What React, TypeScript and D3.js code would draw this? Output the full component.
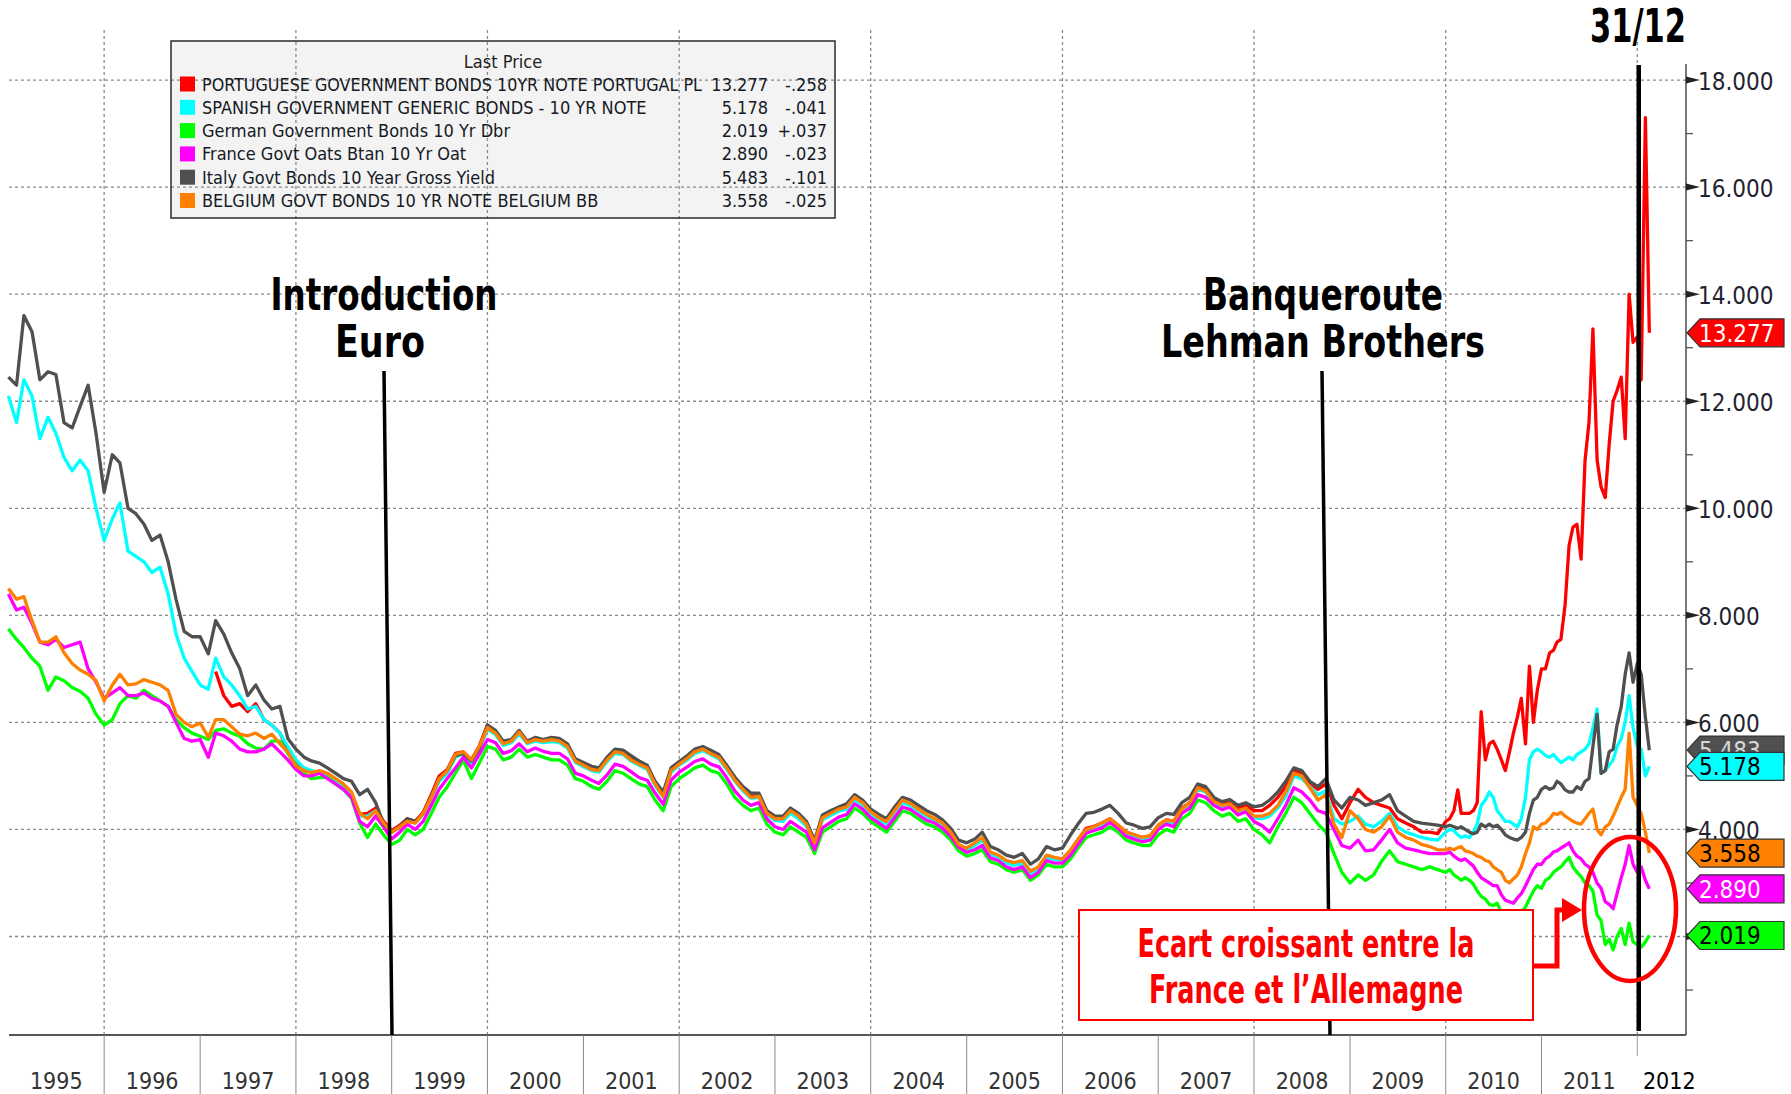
import React from "react";
import * as d3 from "d3";

const W = 1791;
const H = 1094;

// ---------- time grid: monthly 1995-2009, semi-monthly 2010 - Feb 2012 ----------
const monthlyDates = d3.timeMonth.range(new Date(1995, 0, 1), new Date(2010, 0, 1));
const semiDates: Date[] = [];
d3.timeMonth.range(new Date(2010, 0, 1), new Date(2012, 2, 1)).forEach((m) => {
  semiDates.push(m);
  semiDates.push(new Date(m.getFullYear(), m.getMonth(), 16));
});
const dates: Date[] = [...monthlyDates, ...semiDates];

// ---------- series values (yield %) ----------
const germany = [
  7.75, 7.55, 7.4, 7.2, 7.05, 6.6, 6.85, 6.78, 6.65, 6.58, 6.45, 6.15,
  5.95, 6.05, 6.35, 6.5, 6.45, 6.6, 6.5, 6.4, 6.3, 6.05, 5.9, 5.8,
  5.74, 5.68, 5.85, 5.88, 5.8, 5.74, 5.6, 5.52, 5.5, 5.65, 5.65, 5.42,
  5.2, 5.05, 4.95, 4.97, 4.98, 4.85, 4.75, 4.58, 4.12, 3.85, 4.1, 3.9,
  3.72, 3.8, 4.0, 3.9, 4.0, 4.3, 4.6, 4.8, 5.05, 5.3, 4.95, 5.24,
  5.55, 5.5, 5.3, 5.35, 5.5, 5.35, 5.4, 5.35, 5.3, 5.3, 5.2, 4.95,
  4.9, 4.8, 4.75, 4.9, 5.1, 5.05, 4.95, 4.85, 4.8, 4.55, 4.35, 4.8,
  4.95, 5.05, 5.15, 5.2, 5.1, 5.05, 4.85, 4.6, 4.45, 4.35, 4.4, 4.1,
  3.95, 3.9, 4.05, 3.95, 3.85, 3.55, 3.95, 4.05, 4.15, 4.2, 4.4, 4.3,
  4.15, 4.05, 3.95, 4.15, 4.35, 4.3, 4.2, 4.1, 4.05, 3.95, 3.8, 3.6,
  3.5, 3.55, 3.62, 3.4, 3.35, 3.25, 3.2, 3.25, 3.05, 3.15, 3.35, 3.3,
  3.3, 3.45, 3.65, 3.85, 3.9, 3.95, 4.05, 3.95, 3.8, 3.75, 3.7, 3.7,
  3.9, 4.0, 3.95, 4.2, 4.3, 4.55, 4.5, 4.35, 4.25, 4.3, 4.15, 4.2,
  4.0, 3.9, 3.75, 4.05, 4.3, 4.6, 4.5, 4.3, 4.1, 3.95, 3.55, 3.2,
  3.0, 3.15, 3.05, 3.15, 3.4, 3.6, 3.4, 3.35, 3.3, 3.25, 3.3, 3.25,
  3.2, 3.25, 3.15, 3.1, 3.05, 3.1, 3.05, 2.98, 2.85, 2.75, 2.7, 2.6, 2.58, 2.62, 2.45, 2.35, 2.35, 2.25, 2.35, 2.45, 2.55, 2.7, 2.85, 2.95,
  2.9, 3.05, 3.1, 3.2, 3.25, 3.3, 3.4, 3.48, 3.3, 3.2, 3.12, 3.0, 2.95, 2.85, 2.4, 2.3, 1.85, 1.95, 1.75, 2.0, 2.15, 1.85, 2.25, 1.9,
  1.85, 1.8, 1.9, 2.02,
];

const france = [
  8.4, 8.1, 8.15, 7.85, 7.5, 7.45, 7.55, 7.4, 7.45, 7.5, 7.0, 6.75,
  6.45, 6.55, 6.65, 6.5, 6.5, 6.55, 6.45, 6.4, 6.3, 6.0, 5.7, 5.65,
  5.68, 5.35, 5.8, 5.75, 5.65, 5.5, 5.45, 5.45, 5.5, 5.6, 5.45, 5.3,
  5.12, 5.0, 5.0, 5.05, 4.95, 4.85, 4.75, 4.6, 4.15, 4.05, 4.25, 4.05,
  3.82, 3.95, 4.1, 4.0, 4.15, 4.45, 4.75, 4.95, 5.15, 5.35, 5.15, 5.4,
  5.68, 5.62, 5.42, 5.47, 5.6, 5.45, 5.52, 5.46, 5.42, 5.42, 5.32, 5.05,
  5.0, 4.92, 4.86, 5.02, 5.22, 5.18, 5.08, 4.97, 4.92, 4.68, 4.47, 4.92,
  5.07, 5.17, 5.27, 5.32, 5.22, 5.17, 4.97, 4.72, 4.55, 4.45, 4.5, 4.2,
  4.05, 4.0, 4.15, 4.05, 3.95, 3.62, 4.03, 4.13, 4.23, 4.28, 4.48, 4.38,
  4.22, 4.12, 4.02, 4.22, 4.42, 4.37, 4.27, 4.17, 4.12, 4.02, 3.87, 3.67,
  3.57, 3.62, 3.7, 3.47, 3.42, 3.3, 3.25, 3.3, 3.1, 3.2, 3.42, 3.37,
  3.37, 3.52, 3.72, 3.93, 3.98, 4.03, 4.13, 4.02, 3.87, 3.82, 3.77, 3.8,
  4.0, 4.1, 4.05, 4.3, 4.4, 4.65, 4.6, 4.45, 4.37, 4.42, 4.27, 4.33,
  4.15, 4.07, 3.95, 4.2, 4.45, 4.78, 4.7, 4.55, 4.35, 4.3, 4.0, 3.7,
  3.65, 3.8, 3.6, 3.62, 3.8, 4.0, 3.75, 3.65, 3.62, 3.58, 3.55, 3.55,
  3.55, 3.58, 3.5, 3.45, 3.42, 3.45, 3.38, 3.32, 3.2, 3.1, 3.05, 3.0, 2.95, 2.95, 2.78, 2.68, 2.65, 2.62, 2.72, 2.8, 2.95, 3.1, 3.25, 3.35,
  3.35, 3.45, 3.5, 3.58, 3.6, 3.65, 3.7, 3.75, 3.6, 3.5, 3.45, 3.35, 3.3, 3.2, 3.0, 2.9, 2.65, 2.6, 2.52, 2.8, 3.1, 3.35, 3.7, 3.35,
  3.2, 3.3, 3.05, 2.89,
];

const belgium = [
  8.5, 8.3, 8.35, 7.9, 7.5, 7.5, 7.6, 7.3, 7.1, 6.98, 6.9, 6.78,
  6.4, 6.7, 6.9, 6.7, 6.72, 6.8, 6.75, 6.7, 6.6, 6.15, 6.0, 5.92,
  5.99, 5.72, 6.05, 6.05, 5.92, 5.78, 5.75, 5.8, 5.7, 5.78, 5.6, 5.45,
  5.18, 5.1, 5.06, 5.1, 5.05, 4.95, 4.85, 4.7, 4.3, 4.2, 4.35, 4.12,
  3.95, 4.05, 4.15, 4.12, 4.3, 4.6, 4.95, 5.1, 5.4, 5.45, 5.3, 5.55,
  5.9, 5.8, 5.6, 5.65, 5.82, 5.62, 5.68, 5.65, 5.68, 5.65, 5.55, 5.28,
  5.2, 5.12, 5.1, 5.3, 5.45, 5.42, 5.3, 5.22, 5.15, 4.85, 4.62, 5.1,
  5.22, 5.33, 5.45, 5.5, 5.42, 5.35, 5.15, 4.92, 4.75, 4.6, 4.62, 4.3,
  4.2, 4.2, 4.35, 4.25, 4.1, 3.75, 4.22, 4.3, 4.38, 4.42, 4.6, 4.5,
  4.33, 4.22, 4.15, 4.35, 4.55, 4.48, 4.38, 4.28, 4.2, 4.12, 3.95, 3.72,
  3.65, 3.75, 3.85, 3.58, 3.52, 3.42, 3.38, 3.42, 3.22, 3.3, 3.52, 3.48,
  3.45, 3.62, 3.82, 4.0, 4.05, 4.12, 4.2, 4.08, 3.95, 3.9, 3.85, 3.88,
  4.08, 4.18, 4.15, 4.38, 4.5, 4.78, 4.72, 4.52, 4.45, 4.48, 4.35, 4.4,
  4.25, 4.25, 4.3, 4.45, 4.7, 5.05, 5.0, 4.78, 4.55, 4.65, 4.1, 3.85,
  4.35, 4.2, 4.0, 3.95, 4.05, 4.25, 3.95, 3.85, 3.8, 3.72, 3.68, 3.62,
  3.62, 3.65, 3.62, 3.66, 3.68, 3.6, 3.58, 3.55, 3.5, 3.48, 3.42, 3.4, 3.3, 3.25, 3.2, 3.05, 3.0, 3.08, 3.15, 3.3, 3.55, 3.75, 4.05, 4.0,
  4.1, 4.12, 4.2, 4.3, 4.28, 4.32, 4.25, 4.2, 4.15, 4.12, 4.1, 4.2, 4.3, 4.38, 4.0, 3.9, 4.05, 4.1, 4.25, 4.42, 4.6, 4.75, 5.8, 4.6,
  4.45, 4.3, 3.95, 3.56,
];

const italy = [
  12.45, 12.3, 13.6, 13.3, 12.4, 12.55, 12.5, 11.6, 11.5, 11.9, 12.3, 11.4,
  10.3, 11.0, 10.85, 10.0, 9.9, 9.7, 9.4, 9.5, 9.0, 8.3, 7.7, 7.6,
  7.6, 7.28, 7.9, 7.65, 7.3, 7.0, 6.5, 6.7, 6.42, 6.25, 6.3, 5.7,
  5.5, 5.35, 5.28, 5.24, 5.15, 5.05, 4.95, 4.9, 4.65, 4.75, 4.5, 4.1,
  3.95, 4.05, 4.2, 4.15, 4.3, 4.62, 4.95, 5.1, 5.38, 5.42, 5.28, 5.52,
  5.95, 5.85, 5.65, 5.68, 5.85, 5.65, 5.72, 5.68, 5.72, 5.7, 5.6, 5.32,
  5.25, 5.18, 5.15, 5.35, 5.5, 5.48, 5.38, 5.28, 5.2, 4.9, 4.7, 5.15,
  5.27, 5.38, 5.5, 5.55, 5.48, 5.4, 5.2, 4.98, 4.8, 4.68, 4.68, 4.35,
  4.25, 4.25, 4.4, 4.3, 4.15, 3.8, 4.27, 4.35, 4.42, 4.48, 4.65, 4.55,
  4.38, 4.28, 4.2, 4.42, 4.6, 4.55, 4.45, 4.35, 4.28, 4.18, 4.02, 3.8,
  3.75, 3.82, 3.95, 3.68, 3.62, 3.52, 3.48, 3.55, 3.35, 3.45, 3.68, 3.62,
  3.65, 3.9, 4.1, 4.3, 4.32, 4.38, 4.45, 4.3, 4.12, 4.08, 4.02, 4.05,
  4.22, 4.3, 4.28, 4.5, 4.6, 4.85, 4.8, 4.6, 4.52, 4.56, 4.45, 4.5,
  4.42, 4.45, 4.55, 4.7, 4.9, 5.15, 5.1, 4.9, 4.8, 4.95, 4.55, 4.4,
  4.6, 4.55, 4.45, 4.5, 4.55, 4.65, 4.35, 4.25, 4.15, 4.12, 4.1, 4.08,
  4.05, 4.08, 4.05, 4.02, 4.05, 4.0, 3.95, 3.92, 3.95, 4.1, 4.05, 4.1, 4.05, 4.08, 4.0, 3.9, 3.85, 3.82, 3.8, 3.85, 3.95, 4.3, 4.55, 4.6,
  4.75, 4.8, 4.75, 4.78, 4.9, 4.85, 4.74, 4.7, 4.7, 4.8, 4.75, 4.9, 4.95, 5.55, 6.15, 5.05, 5.1, 5.45, 5.5, 5.95, 6.3, 6.9, 7.3, 6.75,
  7.1, 6.9, 6.1, 5.48,
];

const spain = [
  12.1, 11.6, 12.4, 12.1, 11.3, 11.7, 11.4, 10.95, 10.7, 10.9, 10.7, 10.0,
  9.4, 9.8, 10.1, 9.2, 9.1, 9.0, 8.8, 8.9, 8.4, 7.65, 7.2, 6.95,
  6.7, 6.62, 7.2, 6.85, 6.7, 6.5, 6.25, 6.3, 6.05, 5.95, 5.8, 5.55,
  5.3, 5.15, 5.1, 5.05, 5.0, 4.9, 4.8, 4.62, 4.25, 4.25, 4.35, 4.1,
  3.95, 4.05, 4.18, 4.12, 4.28, 4.58, 4.9, 5.05, 5.35, 5.42, 5.25, 5.5,
  5.87, 5.77, 5.57, 5.62, 5.78, 5.6, 5.65, 5.62, 5.64, 5.62, 5.52, 5.25,
  5.17, 5.1, 5.07, 5.27, 5.42, 5.4, 5.28, 5.2, 5.12, 4.82, 4.6, 5.07,
  5.2, 5.3, 5.42, 5.47, 5.4, 5.32, 5.12, 4.9, 4.72, 4.58, 4.6, 4.28,
  4.17, 4.15, 4.3, 4.2, 4.06, 3.7, 4.18, 4.26, 4.34, 4.38, 4.56, 4.45,
  4.3, 4.18, 4.1, 4.3, 4.5, 4.44, 4.34, 4.24, 4.16, 4.08, 3.92, 3.68,
  3.6, 3.7, 3.8, 3.54, 3.47, 3.37, 3.33, 3.37, 3.17, 3.26, 3.48, 3.44,
  3.42, 3.58, 3.78, 3.97, 4.02, 4.09, 4.17, 4.05, 3.92, 3.87, 3.82, 3.85,
  4.05, 4.15, 4.12, 4.35, 4.47, 4.75, 4.7, 4.5, 4.43, 4.45, 4.32, 4.38,
  4.22, 4.2, 4.25, 4.4, 4.62, 5.0, 4.95, 4.8, 4.65, 4.72, 4.2, 4.1,
  4.15, 4.25, 4.1, 4.05, 4.15, 4.3, 4.05, 3.95, 3.9, 3.85, 3.82, 3.8,
  3.95, 4.0, 3.98, 3.9, 3.85, 3.88, 3.85, 3.95, 4.1, 4.45, 4.55, 4.7, 4.6, 4.35, 4.25, 4.15, 4.15, 4.1, 4.05, 4.2, 4.6, 5.3, 5.45, 5.5,
  5.45, 5.38, 5.35, 5.4, 5.32, 5.25, 5.3, 5.35, 5.3, 5.4, 5.45, 5.5, 5.6, 5.9, 6.25, 5.05, 5.1, 5.2, 5.3, 5.55, 5.7, 6.0, 6.5, 5.9,
  5.55, 5.5, 5.0, 5.18,
];

const portugal: (number | null)[] = [
  null, null, null, null, null, null, null, null, null, null, null, null,
  null, null, null, null, null, null, null, null, null, null, null, null,
  null, null, 6.95, 6.5, 6.3, 6.35, 6.2, 6.35, 6.05, 5.95, 5.8, 5.5,
  5.25, 5.12, 5.07, 5.06, 5.02, 4.92, 4.82, 4.65, 4.28, 4.3, 4.4, 4.15,
  3.98, 4.08, 4.2, 4.15, 4.32, 4.65, 5.0, 5.12, 5.42, 5.45, 5.3, 5.56,
  5.95, 5.82, 5.62, 5.66, 5.84, 5.64, 5.7, 5.66, 5.7, 5.67, 5.57, 5.3,
  5.22, 5.14, 5.12, 5.32, 5.47, 5.44, 5.32, 5.24, 5.17, 4.87, 4.64, 5.12,
  5.24, 5.35, 5.47, 5.52, 5.44, 5.37, 5.17, 4.94, 4.77, 4.62, 4.64, 4.32,
  4.21, 4.2, 4.34, 4.24, 4.09, 3.73, 4.2, 4.28, 4.36, 4.4, 4.58, 4.48,
  4.31, 4.2, 4.13, 4.33, 4.53, 4.46, 4.36, 4.26, 4.18, 4.1, 3.94, 3.7,
  3.62, 3.72, 3.84, 3.57, 3.5, 3.4, 3.36, 3.4, 3.2, 3.28, 3.5, 3.46,
  3.44, 3.6, 3.8, 4.02, 4.06, 4.12, 4.2, 4.08, 3.95, 3.9, 3.85, 3.88,
  4.08, 4.18, 4.15, 4.4, 4.5, 4.8, 4.74, 4.55, 4.48, 4.5, 4.4, 4.45,
  4.35, 4.35, 4.45, 4.6, 4.8, 5.1, 5.05, 4.85, 4.75, 4.85, 4.45, 4.2,
  4.5, 4.75, 4.6, 4.5, 4.45, 4.4, 4.2, 4.12, 4.05, 3.95, 3.95, 3.92,
  4.15, 4.2, 4.35, 4.74, 4.3, 4.3, 4.3, 4.35, 4.5, 6.2, 5.3, 5.6, 5.65, 5.5, 5.3, 5.1, 5.45, 5.8, 6.1, 6.45, 5.6, 7.05, 6.0, 6.6,
  7.0, 7.0, 7.3, 7.35, 7.5, 7.55, 8.2, 9.3, 9.65, 9.7, 9.05, 10.9, 11.6, 13.35, 10.9, 10.4, 10.2, 11.2, 12.0, 12.2, 12.45, 11.3, 14.0, 13.1,
  13.2, 12.4, 17.3, 13.28,
];

// ---------- legend / labels ----------
const seriesNames = [
  "PORTUGUESE GOVERNMENT BONDS 10YR NOTE PORTUGAL PL",
  "SPANISH GOVERNMENT GENERIC BONDS - 10 YR NOTE",
  "German Government Bonds 10 Yr Dbr",
  "France Govt Oats Btan 10 Yr Oat",
  "Italy Govt Bonds 10 Year Gross Yield",
  "BELGIUM GOVT BONDS 10 YR NOTE BELGIUM BB",
];
const lastPrices = [13.277, 5.178, 2.019, 2.89, 5.483, 3.558];
const changes = ["-.258", "-.041", "+.037", "-.023", "-.101", "-.025"];
const seriesColors = ["#ff0000", "#00ffff", "#00ff00", "#ff00ff", "#505050", "#ff8000"];
const tagTextColors = ["#ffffff", "#000000", "#000000", "#ffffff", "#d8d8d8", "#000000"];
const seriesValues = [portugal, spain, germany, france, italy, belgium];

const yearLabels = d3.range(1995, 2013);
const majorTicks = [2, 4, 6, 8, 10, 12, 14, 16, 18];
const minorTicks = [1, 3, 5, 7, 9, 11, 13, 15, 17];

// ---------- scales ----------
const x = d3.scaleTime().domain([new Date(1995, 0, 1), new Date(2012, 6, 1)]).range([8.4, 1685]);
const y = d3.scaleLinear().domain([0.16, 18.3]).range([1035, 64]);
const PLOT_L = 9;
const PLOT_R = 1686;
const PLOT_T = 64;
const PLOT_B = 1035;

const FONT = "'DejaVu Sans Condensed', 'Liberation Sans Narrow', 'DejaVu Sans', sans-serif";
const BOLD = "'Liberation Sans Narrow', 'DejaVu Sans Condensed', 'Liberation Sans', sans-serif";

export default function App() {
  const line = d3
    .line<number | null>()
    .defined((d) => d != null)
    .x((_, i) => x(dates[i]))
    .y((d) => y(d as number));

  const yr = (yy: number) => x(new Date(yy, 0, 1));
  const fmt = d3.format(".3f");

  // tag drawing order: italy first so that spain overlaps it
  const tagOrder = [4, 0, 1, 5, 3, 2];

  return (
    <svg width={W} height={H} style={{ display: "block", position: "absolute", left: 0, top: 0, background: "#fff" }}>
      <rect x={0} y={0} width={W} height={H} fill="#ffffff" />

      {/* legend background */}
      <rect x={171} y={41} width={664} height={177} fill="#f3f3f3" />

      {/* horizontal gridlines */}
      {majorTicks.map((v) => (
        <line key={"hg" + v} x1={PLOT_L} x2={PLOT_R} y1={y(v)} y2={y(v)} stroke="#8a8a8a" strokeWidth={1.3} strokeDasharray="3,3" />
      ))}
      {/* vertical gridlines at even years */}
      {[1996, 1998, 2000, 2002, 2004, 2006, 2008, 2010, 2012].map((yy) => (
        <line key={"vg" + yy} x1={yr(yy)} x2={yr(yy)} y1={30} y2={PLOT_B} stroke="#8a8a8a" strokeWidth={1.3} strokeDasharray="3,3" />
      ))}

      {/* legend border */}
      <rect x={171} y={41} width={664} height={177} fill="none" stroke="#2a2a2a" strokeWidth={1.5} />

      {/* series */}
      {seriesValues.map((vals, k) => (
        <path key={"s" + k} d={line(vals) || ""} fill="none" stroke={seriesColors[k]} strokeWidth={3.3} strokeLinejoin="round" />
      ))}

      {/* axes */}
      <line x1={PLOT_L} x2={PLOT_R} y1={PLOT_B} y2={PLOT_B} stroke="#555" strokeWidth={2} />
      <line x1={PLOT_R} x2={PLOT_R} y1={PLOT_T} y2={PLOT_B} stroke="#555" strokeWidth={1.6} />
      {d3.range(1996, 2012).map((yy) => (
        <line key={"yt" + yy} x1={yr(yy)} x2={yr(yy)} y1={PLOT_B} y2={H} stroke="#8a8a8a" strokeWidth={1} />
      ))}
      <line x1={yr(2012)} x2={yr(2012)} y1={PLOT_B} y2={1056} stroke="#999" strokeWidth={1} />
      {yearLabels.map((yy) => {
        const cx = yy < 2012 ? (yr(yy) + yr(yy + 1)) / 2 : yr(2012) + 32;
        return (
          <text key={"yl" + yy} x={cx} y={1089} textAnchor="middle" fontFamily={FONT} fontSize={23} fill={yy === 2012 ? "#000" : "#333"}>
            {yy}
          </text>
        );
      })}

      {/* right axis ticks */}
      {minorTicks.map((v) => (
        <line key={"mt" + v} x1={PLOT_R} x2={PLOT_R + 7} y1={y(v)} y2={y(v)} stroke="#555" strokeWidth={1.3} />
      ))}
      {majorTicks.map((v) => (
        <g key={"Mt" + v}>
          <path d={`M${PLOT_R},${y(v) - 3.5} L${PLOT_R + 14},${y(v)} L${PLOT_R},${y(v) + 3.5} Z`} fill="#222" />
          <text x={1698} y={y(v) + 9.5} fontFamily={FONT} fontSize={24} fill="#1f2530">
            {fmt(v)}
          </text>
        </g>
      ))}

      {/* annotation lines */}
      <line x1={384} y1={371} x2={392} y2={PLOT_B} stroke="#000" strokeWidth={3.5} />
      <line x1={1322} y1={371} x2={1330} y2={PLOT_B} stroke="#000" strokeWidth={3.5} />
      <line x1={yr(2012) + 1.5} y1={65} x2={yr(2012) + 1.5} y2={1031} stroke="#000" strokeWidth={4.5} />

      {/* annotation texts */}
      <text x={384} y={310} textAnchor="middle" fontFamily={BOLD} fontWeight="bold" fontSize={44} fill="#000" textLength={227} lengthAdjust="spacingAndGlyphs">
        Introduction
      </text>
      <text x={380} y={357} textAnchor="middle" fontFamily={BOLD} fontWeight="bold" fontSize={44} fill="#000" textLength={90} lengthAdjust="spacingAndGlyphs">
        Euro
      </text>
      <text x={1323} y={310} textAnchor="middle" fontFamily={BOLD} fontWeight="bold" fontSize={44} fill="#000" textLength={240} lengthAdjust="spacingAndGlyphs">
        Banqueroute
      </text>
      <text x={1323} y={357} textAnchor="middle" fontFamily={BOLD} fontWeight="bold" fontSize={44} fill="#000" textLength={324} lengthAdjust="spacingAndGlyphs">
        Lehman Brothers
      </text>
      <text x={1638} y={42} textAnchor="middle" fontFamily={BOLD} fontWeight="bold" fontSize={46} fill="#000" textLength={96} lengthAdjust="spacingAndGlyphs">
        31/12
      </text>

      {/* red callout */}
      <rect x={1079} y={910} width={454} height={110} fill="#fff" stroke="#ff0000" strokeWidth={2} />
      <text x={1306} y={957} textAnchor="middle" fontFamily={BOLD} fontWeight="bold" fontSize={39} fill="#ff0000" textLength={337} lengthAdjust="spacingAndGlyphs">
        Ecart croissant entre la
      </text>
      <text x={1306} y={1003} textAnchor="middle" fontFamily={BOLD} fontWeight="bold" fontSize={39} fill="#ff0000" textLength={314} lengthAdjust="spacingAndGlyphs">
        France et l’Allemagne
      </text>
      <polyline points="1533,966 1557,966 1557,910 1564,910" fill="none" stroke="#ff0000" strokeWidth={5} />
      <path d="M1562,898 L1582,910 L1562,922 Z" fill="#ff0000" />
      <ellipse cx={1630} cy={909} rx={46} ry={72} fill="none" stroke="#ff0000" strokeWidth={4.5} />

      {/* last value tags */}
      {tagOrder.map((k) => {
        const cy = y(lastPrices[k]);
        const h = 14;
        return (
          <g key={"tag" + k}>
            <path
              d={`M${PLOT_R + 1},${cy} L${PLOT_R + 14},${cy - h} L1784,${cy - h} L1784,${cy + h} L${PLOT_R + 14},${cy + h} Z`}
              fill={seriesColors[k]}
              stroke="#333"
              strokeWidth={1.2}
            />
            <text x={1699} y={cy + 9} fontFamily={FONT} fontSize={24} fill={tagTextColors[k]}>
              {fmt(lastPrices[k])}
            </text>
          </g>
        );
      })}

      {/* legend content */}
      <text x={503} y={68} textAnchor="middle" fontFamily={FONT} fontSize={18} fill="#222">
        Last Price
      </text>
      {seriesNames.map((name, i) => {
        const cy = 84 + i * 23.3;
        return (
          <g key={"lg" + i}>
            <rect x={180} y={cy - 7.5} width={15} height={15} fill={seriesColors[i]} />
            <text
              x={202}
              y={cy + 6.5}
              fontFamily={FONT}
              fontSize={18}
              fill="#151a25"
              {...(i === 0 ? { textLength: 500, lengthAdjust: "spacingAndGlyphs" } : {})}
            >
              {name}
            </text>
            <text x={768} y={cy + 6.5} textAnchor="end" fontFamily={FONT} fontSize={18} fill="#151a25">
              {fmt(lastPrices[i])}
            </text>
            <text x={827} y={cy + 6.5} textAnchor="end" fontFamily={FONT} fontSize={18} fill="#151a25">
              {changes[i]}
            </text>
          </g>
        );
      })}
    </svg>
  );
}
